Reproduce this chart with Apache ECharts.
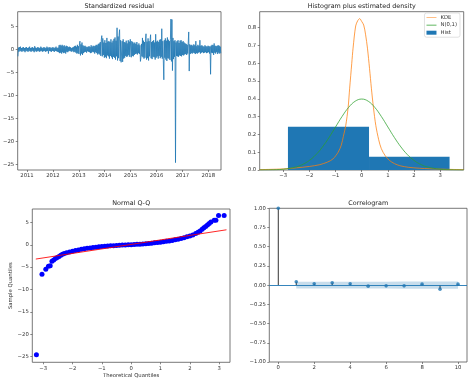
<!DOCTYPE html>
<html><head><meta charset="utf-8">
<script src="https://cdn.jsdelivr.net/npm/echarts@6/dist/echarts.min.js"></script>
<style>html,body{margin:0;padding:0;background:#fff}#c{width:474px;height:381px}</style>
</head><body><div id="c"></div>
<script>
// ---------------- DATA ----------------
// Panel 1: standardized residual (evenly spaced observations over the period)
const residStart = 2010.65;
const residEnd = 2018.48;
const residValues = [
-1.5,0.4,-0.5,0.5,-0.3,0.6,-0.4,0.3,-0.5,0.4,
-0.3,0.5,-0.4,0.3,-0.6,0.4,-0.3,0.5,-0.4,0.3,
-0.5,0.4,-0.3,0.6,-0.4,0.3,-0.5,0.4,-0.3,0.5,
-0.4,0.3,-0.6,0.7,-0.3,0.4,-0.5,0.3,-0.4,0.5,
-0.3,0.4,-0.5,0.3,-0.4,0.6,-0.3,0.4,-0.5,0.3,
-0.4,0.5,-0.3,0.4,-0.5,0.3,-0.4,0.6,-0.3,0.4,
-0.9,0.4,-0.3,0.5,-0.4,0.3,-0.5,0.4,-0.3,0.5,
-0.4,0.3,-0.5,0.4,-0.3,0.6,-0.4,0.3,-0.5,0.4,
-0.6,0.9,-0.8,1.0,-0.7,0.8,-0.9,1.0,-0.6,0.7,
-0.8,0.9,-0.7,0.6,-0.9,0.8,-0.5,0.7,-0.6,0.5,
-0.4,0.6,-0.3,0.5,-0.4,0.3,-0.5,0.4,-0.3,0.5,
-0.6,0.7,-0.5,0.8,-0.7,0.6,-0.9,1.0,-0.8,0.7,
-1.0,1.2,1.8,-1.3,1.1,-0.9,1.5,-1.2,0.9,-0.8,
0.7,-0.6,0.8,-0.5,0.6,-0.7,0.5,-0.4,0.6,-0.5,
0.7,-0.6,0.5,-0.8,0.9,-0.7,0.6,-0.5,0.8,-0.6,
0.7,-0.9,0.8,-0.6,1.0,-0.8,0.9,-1.1,1.2,-0.9,
1.3,-1.1,1.6,-1.4,2.1,3.0,-1.5,2.4,-1.2,1.5,
-1.8,2.0,-1.6,1.4,-1.9,2.5,-1.3,1.7,-1.5,1.8,
-2.0,1.6,-1.4,2.2,-1.7,1.5,-2.1,1.9,-1.6,2.3,
-1.8,2.6,-2.2,1.9,-1.5,4.7,-2.4,2.8,-1.9,3.1,
4.3,-2.5,2.0,-2.8,-3.1,1.8,-2.7,2.2,-2.0,1.6,
-1.8,1.5,-1.4,1.9,-1.6,1.3,-1.5,2.0,-1.2,1.7,
-1.6,2.2,2.5,-1.7,1.8,-1.4,1.6,-1.5,1.3,-1.2,
1.5,-1.0,1.2,-0.9,1.6,-1.1,1.0,-0.8,1.3,-1.0,
0.9,-2.6,-1.8,1.2,-1.5,2.5,-1.7,1.9,-2.0,1.6,
-1.8,2.3,3.4,-2.2,1.7,-1.9,2.4,-2.4,1.8,-1.5,
2.1,3.2,-1.9,1.6,-2.1,1.8,-1.6,2.0,-1.7,1.5,
-2.2,3.3,-1.8,1.7,-1.5,1.9,-2.0,1.6,-1.4,2.1,
-1.9,2.2,-1.6,4.5,-2.0,1.8,-2.3,-6.6,2.0,-1.8,
2.4,-2.2,1.9,-2.5,2.6,-1.9,2.1,-2.0,1.8,-2.3,
2.2,6.6,-2.6,6.5,-4.6,2.5,-2.1,1.8,-1.6,2.0,
-24.6,1.5,-1.4,1.8,-1.5,2.0,-1.6,1.4,-1.3,1.9,
-1.4,2.0,-1.5,1.6,-1.2,1.8,-1.3,1.5,-1.1,1.3,
-1.0,1.2,-1.2,1.0,-0.9,1.4,3.8,-4.7,1.1,-1.0,
0.9,-0.8,1.0,-0.9,0.8,-0.7,1.1,-0.8,0.9,-1.0,
1.8,-0.8,0.7,-0.9,1.0,-0.7,0.8,-0.6,2.0,-0.9,
0.8,-0.7,0.9,-0.6,0.7,-0.8,0.6,-0.7,0.9,-0.6,
0.7,-0.8,0.6,-0.7,0.8,-0.6,0.7,-0.9,0.6,-5.4,
0.8,-0.7,1.0,-0.8,0.9,-1.2,1.3,-0.7,0.8,-0.9,
0.7,-0.6,0.8,-1.0,0.9,-0.7,0.8,-0.9,0.6,-0.8
];
const yearTicks = [2011,2012,2013,2014,2015,2016,2017,2018];
const residYTicks = [-25,-20,-15,-10,-5,0,5];

// Panel 2: histogram plus estimated density
const histEdges = [-2.82, 0.28, 3.36];
const histHeights = [0.243, 0.074];
const kdeX = [-3.9,-3.0,-2.5,-2.0,-1.6,-1.3,-1.1,-0.9,-0.78,-0.7,-0.61,-0.52,-0.46,-0.38,-0.33,-0.23,-0.15,-0.077,0.0,0.077,0.15,0.22,0.3,0.37,0.45,0.54,0.65,0.75,0.9,1.07,1.25,1.46,1.8,2.2,2.6,3.0,3.5,3.9];
const kdeY = [0.002,0.006,0.012,0.02,0.03,0.045,0.062,0.1,0.14,0.19,0.25,0.35,0.46,0.6,0.685,0.81,0.84,0.851,0.835,0.815,0.76,0.685,0.57,0.46,0.35,0.25,0.17,0.12,0.08,0.053,0.036,0.024,0.015,0.01,0.007,0.005,0.003,0.002];
const normX = [-3.9,-3.5,-3.0,-2.5,-2.25,-2.0,-1.75,-1.5,-1.25,-1.0,-0.75,-0.5,-0.25,0,0.25,0.5,0.75,1.0,1.25,1.5,1.75,2.0,2.25,2.5,3.0,3.5,3.9];
const normY = [0.0002,0.0009,0.0044,0.0175,0.0317,0.054,0.086,0.1295,0.1826,0.242,0.3011,0.3521,0.3867,0.3989,0.3867,0.3521,0.3011,0.242,0.1826,0.1295,0.086,0.054,0.0317,0.0175,0.0044,0.0009,0.0002];
const densXTicks = [-3,-2,-1,0,1,2,3];
const densYTicks = [0,0.1,0.2,0.3,0.4,0.5,0.6,0.7,0.8];

// Panel 3: Normal Q-Q
const qqTheo = [-3.23,-3.04,-2.91,-2.82,-2.76,-2.70,-2.64,-2.58,-2.52,-2.46,-2.40,-2.34,-2.28,-2.2,-2.1,-2.0,-1.9,-1.8,-1.7,-1.6,-1.5,-1.4,-1.3,-1.2,-1.1,-1.0,-0.9,-0.8,-0.7,-0.6,-0.5,-0.4,-0.3,-0.2,-0.1,0,0.1,0.2,0.3,0.4,0.5,0.6,0.7,0.8,0.9,1.0,1.1,1.2,1.3,1.4,1.5,1.6,1.7,1.8,1.9,2.0,2.1,2.2,2.28,2.35,2.42,2.48,2.54,2.6,2.66,2.72,2.83,2.89,2.98,3.17];
const qqSample = [-24.6,-6.6,-5.5,-4.8,-4.7,-3.7,-3.4,-3.1,-2.85,-2.6,-2.35,-2.15,-1.95,-1.8,-1.62,-1.45,-1.3,-1.15,-1.02,-0.9,-0.8,-0.7,-0.62,-0.54,-0.47,-0.41,-0.35,-0.3,-0.25,-0.2,-0.16,-0.12,-0.08,-0.05,-0.02,0.02,0.06,0.1,0.14,0.19,0.24,0.3,0.36,0.43,0.5,0.58,0.67,0.76,0.86,0.98,1.1,1.24,1.4,1.58,1.78,1.95,2.2,2.5,2.8,3.1,3.45,3.8,4.1,4.4,4.75,5.1,5.5,5.5,6.55,6.55];
const qqLineX = [-3.25, 3.25];
const qqLineY = [-3.2, 3.35];
const qqXTicks = [-3,-2,-1,0,1,2,3];
const qqYTicks = [-25,-20,-15,-10,-5,0,5];

// Panel 4: Correlogram
const acfLags = [0,1,2,3,4,5,6,7,8,9,10];
const acfValues = [1.0,0.044,0.017,0.03,0.017,-0.013,-0.009,-0.009,0.013,-0.052,0.013];
const confLags = [1,2,3,4,5,6,7,8,9,10];
const confUpper = [0.044,0.044,0.045,0.045,0.045,0.045,0.046,0.046,0.046,0.046];
const confLower = [-0.044,-0.044,-0.045,-0.045,-0.045,-0.045,-0.046,-0.046,-0.046,-0.046];
const acfXTicks = [0,2,4,6,8,10];
const acfYTicks = [-1,-0.75,-0.5,-0.25,0,0.25,0.5,0.75,1];

// ---------------- CHART ----------------
const FONT = 'DejaVu Sans';
const TICK_FS = 5.3, TITLE_FS = 6.4;
const TXT = '#333', EDGE = '#555';
const C0 = '#1f77b4', C1 = '#ff7f0e', C2 = '#2ca02c';
const minus = s => String(s).replace('-', '\u2212');

function axis(min, max, ticks, fmt, extra) {
  return Object.assign({
    type: 'value', min, max, scale: true,
    axisLine: {show: false, onZero: false},
    axisTick: {show: true, length: 2, customValues: ticks, lineStyle: {color: EDGE, width: 0.7}},
    axisLabel: {show: true, customValues: ticks, margin: 3.5, fontSize: TICK_FS, fontFamily: FONT, color: TXT,
      formatter: v => minus(fmt ? fmt(v) : v)},
    splitLine: {show: false}
  }, extra || {});
}

const residData = residValues.map((v, i) => [residStart + i * (residEnd - residStart) / (residValues.length - 1), v]);

const grids = [
  {left: 17.3, top: 11.7, width: 203.7, height: 158.3},
  {left: 259.7, top: 11.7, width: 204, height: 158.3},
  {left: 32.3, top: 209, width: 197.7, height: 153.3},
  {left: 269.3, top: 208.3, width: 197.7, height: 153.7}
].map(g => Object.assign(g, {show: true, borderColor: EDGE, borderWidth: 0.8, backgroundColor: 'transparent'}));

const nameStyle = {fontSize: TICK_FS, fontFamily: FONT, color: TXT};
const xAxes = [
  axis(2010.64, 2018.49, yearTicks, v => String(Math.round(v)), {gridIndex: 0, position: 'bottom'}),
  axis(-3.9, 3.9, densXTicks, null, {gridIndex: 1, position: 'bottom'}),
  axis(-3.37, 3.37, qqXTicks, null, {gridIndex: 2, position: 'bottom', name: 'Theoretical Quantiles', nameLocation: 'middle', nameGap: 11, nameTextStyle: nameStyle}),
  axis(-0.5, 10.5, acfXTicks, null, {gridIndex: 3, position: 'bottom'})
];
const yAxes = [
  axis(-26.2, 8.2, residYTicks, null, {gridIndex: 0, position: 'left'}),
  axis(0, 0.89, densYTicks, v => v.toFixed(1), {gridIndex: 1, position: 'left'}),
  axis(-26.3, 8.0, qqYTicks, null, {gridIndex: 2, position: 'left', name: 'Sample Quantiles', nameLocation: 'middle', nameGap: 19, nameTextStyle: nameStyle}),
  axis(-1, 1, acfYTicks, v => v.toFixed(2), {gridIndex: 3, position: 'left'})
];

const lineIcon = 'path://M0,0h0.01v0.01h-0.01z M0,2.3h14v1h-14z M13.99,5.6h0.01v0.01h-0.01z';

const option = {
  animation: false,
  backgroundColor: '#fff',
  textStyle: {fontFamily: FONT},
  grid: grids,
  xAxis: xAxes,
  yAxis: yAxes,
  legend: {
    orient: 'vertical', right: 14, top: 13,
    padding: [2, 3, 2, 2], itemGap: 2.6, itemWidth: 10, itemHeight: 4,
    borderColor: '#ccc', borderWidth: 0.6, borderRadius: 2, backgroundColor: 'rgba(255,255,255,0.8)',
    textStyle: {fontSize: TICK_FS, fontFamily: FONT, color: TXT, padding: [0, 0, 0, -1]},
    itemStyle: {borderWidth: 0},
    data: [
      {name: 'KDE', icon: lineIcon},
      {name: 'N(0,1)', icon: lineIcon},
      {name: 'Hist', icon: 'rect'}
    ]
  },
  graphic: [
    ['Standardized residual', 119.2, 6],
    ['Histogram plus estimated density', 361.7, 6],
    ['Normal Q-Q', 131.2, 203.5],
    ['Correlogram', 368.2, 203]
  ].map(t => ({type: 'text', x: t[1], y: t[2], silent: true,
    style: {text: t[0], align: 'center', verticalAlign: 'middle', textAlign: 'center', textVerticalAlign: 'middle',
      font: TITLE_FS + 'px "' + FONT + '"', fill: '#222'}})),
  series: [
    // Panel 1
    {type: 'line', xAxisIndex: 0, yAxisIndex: 0, data: residData, symbol: 'none',
     lineStyle: {color: C0, width: 0.8}, itemStyle: {color: C0}, z: 2},
    // Panel 2
    {type: 'custom', name: 'Hist', xAxisIndex: 1, yAxisIndex: 1, itemStyle: {color: C0},
     data: histHeights.map((h, i) => [histEdges[i], histEdges[i + 1], h]),
     encode: {x: [0, 1], y: 2},
     renderItem: (params, api) => {
       const a = api.coord([api.value(0), api.value(2)]);
       const b = api.coord([api.value(1), 0]);
       return {type: 'rect', shape: {x: a[0], y: a[1], width: b[0] - a[0], height: b[1] - a[1]}, style: {fill: C0}};
     }, z: 1},
    {type: 'line', name: 'KDE', xAxisIndex: 1, yAxisIndex: 1, data: kdeX.map((x, i) => [x, kdeY[i]]),
     symbol: 'none', smooth: 0.3, lineStyle: {color: C1, width: 1, opacity: 0.75}, itemStyle: {color: C1}, z: 3},
    {type: 'line', name: 'N(0,1)', xAxisIndex: 1, yAxisIndex: 1, data: normX.map((x, i) => [x, normY[i]]),
     symbol: 'none', smooth: 0.4, lineStyle: {color: C2, width: 1, opacity: 0.75}, itemStyle: {color: C2}, z: 3},
    // Panel 3
    {type: 'scatter', xAxisIndex: 2, yAxisIndex: 2, data: qqTheo.map((x, i) => [x, qqSample[i]]),
     symbol: 'circle', symbolSize: 5, itemStyle: {color: '#0000ff', opacity: 1}, z: 2},
    {type: 'line', xAxisIndex: 2, yAxisIndex: 2, data: qqLineX.map((x, i) => [x, qqLineY[i]]),
     symbol: 'none', lineStyle: {color: '#ff0000', width: 1, opacity: 0.85}, z: 3},
    // Panel 4
    {type: 'custom', xAxisIndex: 3, yAxisIndex: 3,
     data: confLags.map((l, i) => [l, confLower[i], confUpper[i]]),
     encode: {x: 0, y: [1, 2]},
     renderItem: (params, api) => {
       if (params.dataIndex !== 0) return null;
       const pts = [];
       confLags.forEach((l, i) => pts.push(api.coord([l, confUpper[i]])));
       for (let i = confLags.length - 1; i >= 0; i--) pts.push(api.coord([confLags[i], confLower[i]]));
       return {type: 'polygon', shape: {points: pts}, style: {fill: 'rgba(31,119,180,0.25)'}};
     }, z: 1},
    {type: 'custom', xAxisIndex: 3, yAxisIndex: 3, data: acfLags.map((l, i) => [l, acfValues[i]]),
     encode: {x: 0, y: 1},
     renderItem: (params, api) => {
       const a = api.coord([api.value(0), 0]);
       const b = api.coord([api.value(0), api.value(1)]);
       return {type: 'line', shape: {x1: a[0], y1: a[1], x2: b[0], y2: b[1]}, style: {stroke: '#333', lineWidth: 1}};
     }, z: 2},
    {type: 'scatter', xAxisIndex: 3, yAxisIndex: 3, data: acfLags.map((l, i) => [l, acfValues[i]]),
     symbolSize: 3.6, itemStyle: {color: C0}, z: 4,
     markLine: {silent: true, symbol: 'none', label: {show: false},
       lineStyle: {color: C0, width: 0.9, type: 'solid'}, data: [{yAxis: 0}]}}
  ]
};

const chart = echarts.init(document.getElementById('c'), null, {renderer: 'canvas'});
chart.setOption(option);
</script>
</body></html>
